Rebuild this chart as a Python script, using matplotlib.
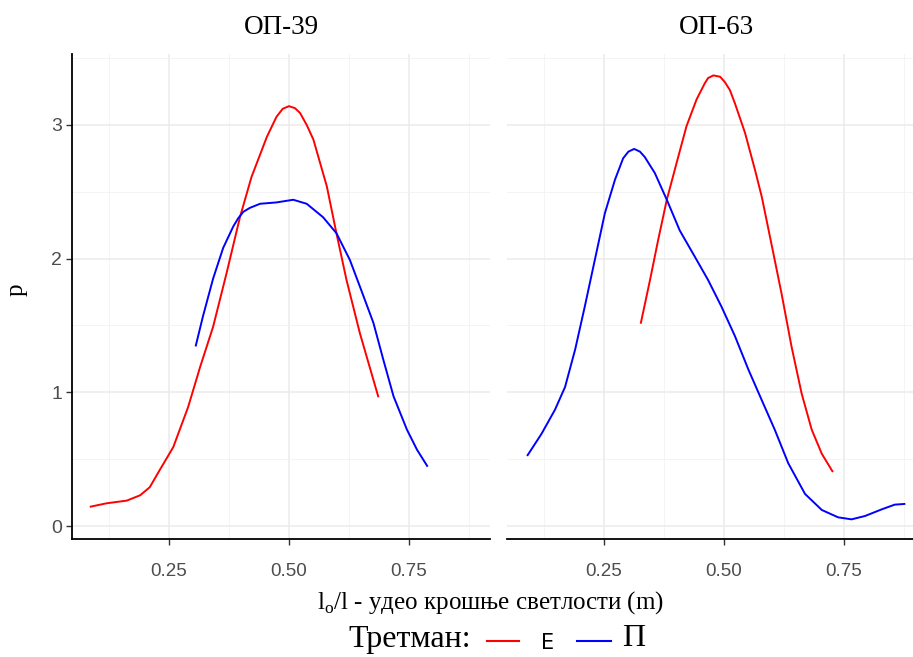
import matplotlib.pyplot as plt
from matplotlib.lines import Line2D

plt.rcParams['mathtext.fontset'] = 'custom'
plt.rcParams['mathtext.rm'] = 'Liberation Serif'

SERIF = 'Liberation Serif'
SANS = 'Liberation Sans'

# ---- data ----
panels = ['ОП-39', 'ОП-63']

e39_x = [0.087, 0.120, 0.162, 0.190, 0.210, 0.231, 0.259, 0.290, 0.315, 0.342,
         0.370, 0.398, 0.422, 0.454, 0.474, 0.487, 0.500, 0.5125, 0.523, 0.537,
         0.551, 0.579, 0.599, 0.620, 0.648, 0.686]
e39_y = [0.145, 0.17, 0.19, 0.23, 0.29, 0.42, 0.59, 0.89, 1.19, 1.49,
         1.89, 2.31, 2.61, 2.91, 3.06, 3.12, 3.14, 3.125, 3.09, 3.00,
         2.89, 2.54, 2.19, 1.84, 1.44, 0.97]

p39_x = [0.306, 0.321, 0.342, 0.363, 0.384, 0.394, 0.405, 0.419, 0.440, 0.474,
         0.509, 0.537, 0.571, 0.599, 0.627, 0.648, 0.676, 0.697, 0.718, 0.746,
         0.767, 0.788]
p39_y = [1.35, 1.57, 1.85, 2.08, 2.24, 2.30, 2.35, 2.38, 2.41, 2.42,
         2.44, 2.41, 2.31, 2.19, 1.99, 1.79, 1.52, 1.24, 0.97, 0.72,
         0.57, 0.45]

e63_x = [0.327, 0.346, 0.363, 0.381, 0.401, 0.422, 0.443, 0.460, 0.467, 0.478,
         0.492, 0.502, 0.5125, 0.523, 0.544, 0.565, 0.579, 0.599, 0.620, 0.641,
         0.662, 0.683, 0.704, 0.726]
e63_y = [1.52, 1.84, 2.14, 2.44, 2.71, 2.99, 3.19, 3.31, 3.35, 3.37,
         3.36, 3.32, 3.26, 3.16, 2.94, 2.66, 2.46, 2.11, 1.74, 1.34,
         0.99, 0.72, 0.54, 0.41]

p63_x = [0.091, 0.120, 0.148, 0.169, 0.190, 0.210, 0.231, 0.252, 0.273, 0.290,
         0.301, 0.313, 0.325, 0.335, 0.356, 0.381, 0.408, 0.440, 0.467, 0.495,
         0.523, 0.551, 0.579, 0.606, 0.634, 0.669, 0.704, 0.738, 0.766, 0.794,
         0.829, 0.856, 0.876]
p63_y = [0.53, 0.69, 0.87, 1.04, 1.32, 1.64, 1.99, 2.34, 2.59, 2.75,
         2.80, 2.82, 2.80, 2.76, 2.64, 2.44, 2.21, 2.01, 1.84, 1.64,
         1.42, 1.17, 0.94, 0.72, 0.47, 0.24, 0.12, 0.065, 0.05, 0.075,
         0.125, 0.16, 0.165]

series = {
    'ОП-39': [(e39_x, e39_y, 'red'), (p39_x, p39_y, 'blue')],
    'ОП-63': [(e63_x, e63_y, 'red'), (p63_x, p63_y, 'blue')],
}

x_ticks = [0.25, 0.50, 0.75]
x_tick_labels = ['0.25', '0.50', '0.75']
x_minor = [0.125, 0.375, 0.625, 0.875]
y_ticks = [0, 1, 2, 3]
y_minor = [0.5, 1.5, 2.5, 3.5]

W, H = 913, 657
fig = plt.figure(figsize=(W / 100, H / 100), dpi=100)

# panel boxes in pixels (left, top, right, bottom); right panel runs off the edge
boxes = [(72, 54, 490, 539), (507, 54, 925, 539)]

for i, (name, box) in enumerate(zip(panels, boxes)):
    l, t, r, b = box
    ax = fig.add_axes([l / W, 1 - b / H, (r - l) / W, (b - t) / H])
    ax.set_xlim(0.048, 0.919)
    ax.set_ylim(-0.097, 3.53)
    ax.set_xticks(x_ticks)
    ax.set_xticks(x_minor, minor=True)
    ax.set_yticks(y_ticks)
    ax.set_yticks(y_minor, minor=True)
    ax.grid(True, which='major', color='#EBEBEB', lw=1.1, zorder=0)
    ax.grid(True, which='minor', color='#F2F2F2', lw=0.6, zorder=0)
    ax.set_axisbelow(True)
    for sp in ['top', 'right']:
        ax.spines[sp].set_visible(False)
    ax.spines['bottom'].set_color('black')
    ax.spines['bottom'].set_linewidth(1.3)
    ax.set_xticklabels(x_tick_labels)
    ax.tick_params(axis='x', which='major', length=4, width=1.0, color='#333333',
                   labelsize=13.5, labelcolor='#4D4D4D', pad=13)
    ax.tick_params(which='minor', length=0)
    for lbl in ax.get_xticklabels():
        lbl.set_family(SANS)
    if i == 0:
        ax.spines['left'].set_color('black')
        ax.spines['left'].set_linewidth(1.3)
        ax.tick_params(axis='y', which='major', length=4, width=1.0, color='#333333',
                       labelsize=14, labelcolor='#4D4D4D', pad=3)
        for lbl in ax.get_yticklabels():
            lbl.set_family(SANS)
    else:
        ax.spines['left'].set_visible(False)
        ax.tick_params(axis='y', which='major', length=0, labelleft=False)

    for xs, ys, c in series[name]:
        ax.plot(xs, ys, color=c, lw=1.4, zorder=3, solid_joinstyle='round')

    fig.text(((l + r) / 2) / W, 1 - 28 / H, name, ha='center', va='center',
             fontsize=19.5, family=SERIF)

fig.text(17 / W, 1 - 290 / H, 'p', rotation=90, ha='center', va='center',
         fontsize=18, family=SERIF)
fig.text(490 / W, 1 - 603 / H,
         r'l$_{\mathregular{o}}$/l - удео крошње светлости (m)',
         ha='center', va='center', fontsize=18, family=SERIF)

# legend row at the bottom
fig.text(410 / W, 1 - 640 / H, 'Третман:', ha='center', va='center',
         fontsize=23, family=SERIF)
fig.add_artist(Line2D([487 / W, 519 / W], [1 - 641 / H, 1 - 641 / H],
                      color='red', lw=1.5))
fig.text(548 / W, 1 - 643 / H, 'Е', ha='center', va='center',
         fontsize=15, family='DejaVu Sans')
fig.add_artist(Line2D([577 / W, 611 / W], [1 - 641 / H, 1 - 641 / H],
                      color='blue', lw=1.5))
fig.text(634 / W, 1 - 639 / H, 'П', ha='center', va='center',
         fontsize=23, family=SERIF)

fig.savefig('out.png', dpi=100)
